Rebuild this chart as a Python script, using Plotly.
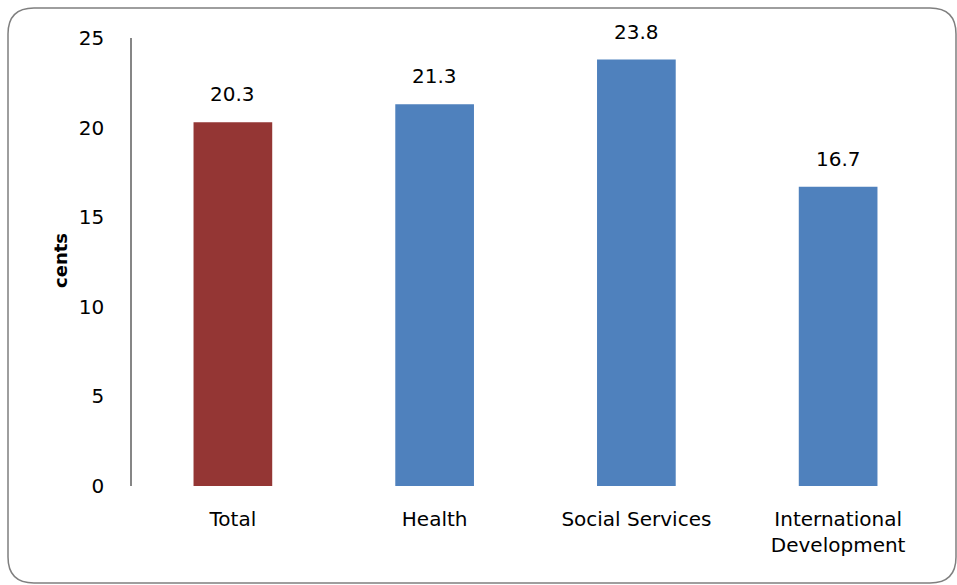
import plotly.graph_objects as go

categories = ["Total", "Health", "Social Services", "International<br>Development"]
values = [20.3, 21.3, 23.8, 16.7]
colors = ["#943634", "#4F81BD", "#4F81BD", "#4F81BD"]
y_ticks = [0, 5, 10, 15, 20, 25]

FONT = "DejaVu Sans, sans-serif"
W, H = 957, 585
L, R, T, B = 132, 18, 38, 99
pw, ph = W - L - R, H - T - B

def px(x):
    return (x - L) / pw

def py(y):
    return (H - B - y) / ph

fig = go.Figure(go.Bar(
    x=categories, y=values, marker=dict(color=colors, line=dict(width=0)),
    width=0.39, cliponaxis=False,
))

annotations = [dict(x=c, y=v, xref="x", yref="y", text=f"{v:.1f}", showarrow=False,
                    yanchor="bottom", yshift=14,
                    font=dict(family=FONT, size=20, color="#000000"))
               for c, v in zip(categories, values)]
annotations.append(dict(x=px(60), y=py(261), xref="paper", yref="paper", text="<b>cents</b>",
                        showarrow=False, textangle=-90, xanchor="center", yanchor="middle",
                        font=dict(family=FONT, size=18, color="#000000")))

# rounded border
x0, y0, x1, y1, r = 8, 8, 956, 583, 26
path = (f"M {px(x0 + r)},{py(y0)} L {px(x1 - r)},{py(y0)} "
        f"Q {px(x1)},{py(y0)} {px(x1)},{py(y0 + r)} "
        f"L {px(x1)},{py(y1 - r)} Q {px(x1)},{py(y1)} {px(x1 - r)},{py(y1)} "
        f"L {px(x0 + r)},{py(y1)} Q {px(x0)},{py(y1)} {px(x0)},{py(y1 - r)} "
        f"L {px(x0)},{py(y0 + r)} Q {px(x0)},{py(y0)} {px(x0 + r)},{py(y0)} Z")

fig.update_layout(
    width=W, height=H, margin=dict(l=L, r=R, t=T, b=B),
    paper_bgcolor="white", plot_bgcolor="white", showlegend=False,
    font=dict(family=FONT, size=20, color="#000000"),
    xaxis=dict(showline=False, ticks="", showgrid=False, ticklabelstandoff=19,
               tickfont=dict(size=20)),
    yaxis=dict(range=[0, 25], tickvals=y_ticks, showgrid=False, zeroline=False,
               showline=True, linecolor="#868686", linewidth=1.5, ticks="",
               ticklabelstandoff=22, tickfont=dict(size=20)),
    annotations=annotations,
    shapes=[dict(type="path", xref="paper", yref="paper", path=path,
                 line=dict(color="#7f7f7f", width=1.5), fillcolor="rgba(0,0,0,0)",
                 layer="below")],
)

fig.write_html("out.html")
